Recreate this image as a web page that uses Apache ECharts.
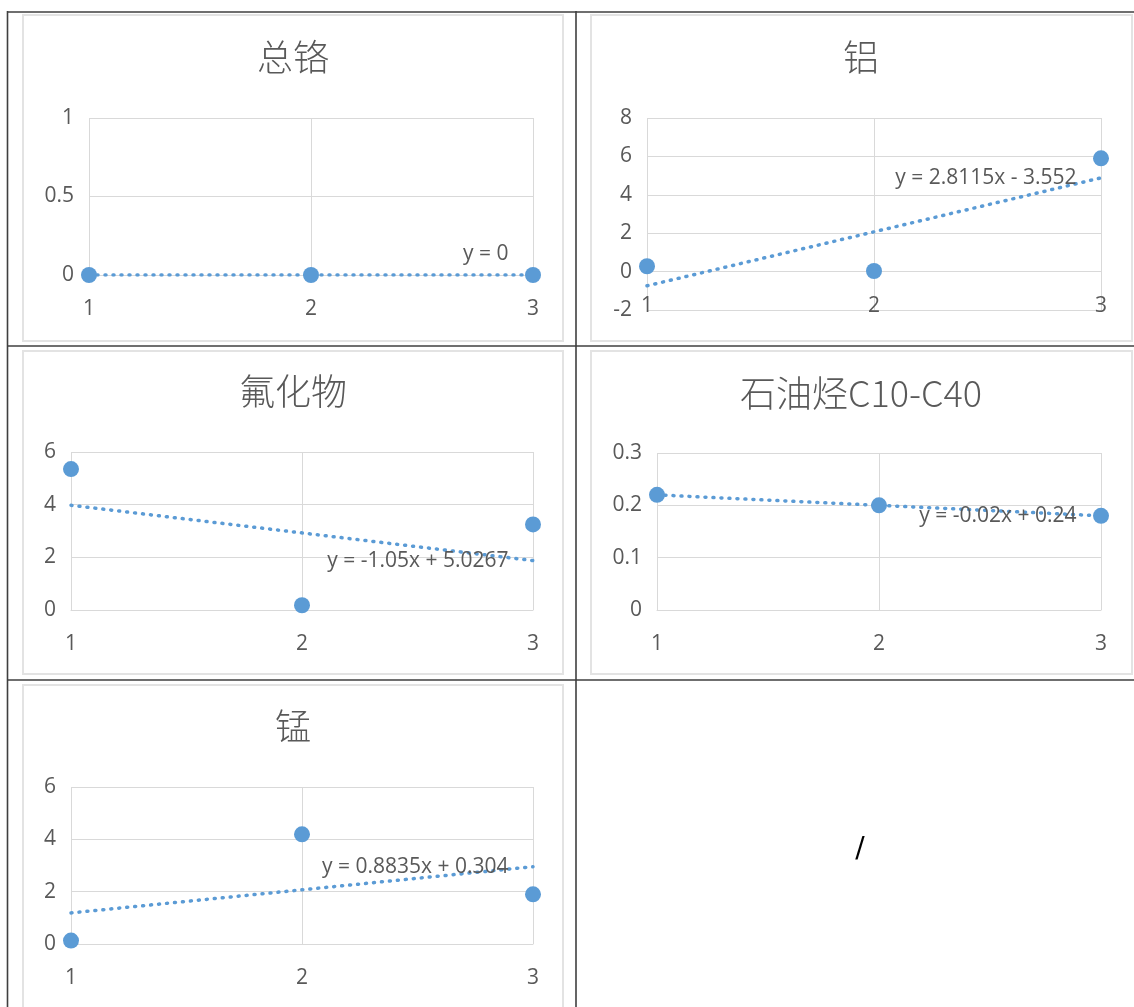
<!DOCTYPE html>
<html>
<head>
<meta charset="utf-8">
<script src="https://cdn.jsdelivr.net/npm/echarts@6/dist/echarts.min.js"></script>
<style>
  html, body { margin: 0; padding: 0; background: #fff; }
  #main { width: 1134px; height: 1007px; }
</style>
</head>
<body>
<div id="main"></div>
<script>
// Sample points (x = 1, 2, 3) for each measured item
const xPoints = [1, 2, 3];
const xTickLabels = ['1', '2', '3'];
const chartTitles = ['总铬', '铝', '氟化物', '石油烃C10-C40', '锰'];
const chromiumTotal = [0, 0, 0];
const aluminium = [0.28, 0.03, 5.90];
const fluoride = [5.35, 0.18, 3.25];
const petroleumHC = [0.22, 0.20, 0.18];
const manganese = [0.13, 4.19, 1.90];

// Linear trend lines: y = slope * x + intercept
const trendSlope = [0, 2.8115, -1.05, -0.02, 0.8835];
const trendIntercept = [0, -3.552, 5.0267, 0.24, 0.304];
const trendLabels = ['y = 0', 'y = 2.8115x - 3.552', 'y = -1.05x + 5.0267', 'y = -0.02x + 0.24', 'y = 0.8835x + 0.304'];

// Value axis ranges
const yMin = [0, -2, 0, 0, 0];
const yMax = [1, 8, 6, 0.3, 6];
const yStep = [0.5, 2, 2, 0.1, 2];

const seriesValues = [chromiumTotal, aluminium, fluoride, petroleumHC, manganese];

// ---- layout ----
const BLUE = '#5b9bd5';
const GRID_GRAY = '#d9d9d9';
const TEXT_GRAY = '#595959';
const LABEL_FONT = '"Open Sans", "Noto Sans", sans-serif';

const gridBoxes = [
  { left: 89,  top: 118, width: 444, height: 157 },
  { left: 647, top: 118, width: 454, height: 192 },
  { left: 71,  top: 452, width: 462, height: 158 },
  { left: 657, top: 453, width: 444, height: 157 },
  { left: 71,  top: 787, width: 462, height: 157 }
];
const titleCenters = [[293, 57], [861, 57], [293, 391], [861, 393], [293, 726]];
const frames = [
  [23, 15, 540, 326], [591, 15, 541, 326],
  [23, 351, 540, 323], [591, 351, 541, 323],
  [23, 685, 540, 340]
];
const labelOffsets = [[0, -21], [0, 0], [0, 0], [0, 0], [0, 0]];

const chart = echarts.init(document.getElementById('main'), null, { renderer: 'canvas' });

const grid = [], xAxis = [], yAxis = [], series = [], graphic = [];

// table ruling
const TABLE = '#3f3f3f';
[[7, 12, 1134, 12], [7, 346, 1134, 346], [7, 680, 1134, 680],
 [7.5, 11, 7.5, 1007], [576, 11, 576, 1007]].forEach(function (l) {
  graphic.push({ type: 'line', shape: { x1: l[0], y1: l[1], x2: l[2], y2: l[3] },
    style: { stroke: TABLE, lineWidth: 1.6 }, z: 1 });
});

// chart frames
frames.forEach(function (f) {
  graphic.push({ type: 'rect', shape: { x: f[0], y: f[1], width: f[2], height: f[3] },
    style: { fill: '#fff', stroke: '#e3e3e3', lineWidth: 2 }, z: 0 });
});

// empty cell mark
graphic.push({ type: 'text', x: 860, y: 850, z: 2,
  style: { text: '/', fill: '#000', font: '28px "DejaVu Sans", sans-serif',
    textAlign: 'center', textVerticalAlign: 'middle' } });

chartTitles.forEach(function (t, i) {
  graphic.push({ type: 'text', x: titleCenters[i][0], y: titleCenters[i][1], z: 2,
    style: { text: t, fill: TEXT_GRAY, font: '300 36px "Noto Sans CJK SC", "Open Sans", sans-serif',
      textAlign: 'center', textVerticalAlign: 'middle' } });

  grid.push(Object.assign({ outerBoundsMode: 'none', containLabel: false }, gridBoxes[i]));

  xAxis.push({
    type: 'value', gridIndex: i, min: 1, max: 3, interval: 1, offset: 0,
    axisLine: { show: true, onZero: false, lineStyle: { color: GRID_GRAY, width: 1 } },
    axisTick: { show: false },
    splitLine: { show: true, lineStyle: { color: GRID_GRAY, width: 1 } },
    axisLabel: { color: TEXT_GRAY, fontSize: 21, fontFamily: LABEL_FONT, margin: 24,
      formatter: function (v) { return xTickLabels[xPoints.indexOf(v)] || ''; } }
  });

  yAxis.push({
    type: 'value', gridIndex: i, min: yMin[i], max: yMax[i], interval: yStep[i],
    axisLine: { show: false, onZero: false }, axisTick: { show: false },
    splitLine: { show: true, lineStyle: { color: GRID_GRAY, width: 1 } },
    axisLabel: { color: TEXT_GRAY, fontSize: 21, fontFamily: LABEL_FONT, margin: 15, padding: [3, 0, 0, 0],
      formatter: function (v) { return String(+v.toFixed(2)); } }
  });

  const s = trendSlope[i], b = trendIntercept[i];
  const x0 = xPoints[0], x1 = xPoints[xPoints.length - 1];
  series.push({
    type: 'line', xAxisIndex: i, yAxisIndex: i, z: 3,
    silent: true, animation: false,
    lineStyle: { color: BLUE, width: 3.5, type: [1, 7], cap: 'round' },
    symbol: 'circle', symbolSize: 1, showSymbol: true,
    itemStyle: { color: 'rgba(0,0,0,0)' },
    data: [
      { value: [x0, s * x0 + b] },
      { value: [x1, s * x1 + b],
        label: { show: true, position: 'left', distance: 24, offset: labelOffsets[i],
          formatter: trendLabels[i], color: TEXT_GRAY, fontSize: 21, fontFamily: LABEL_FONT } }
    ]
  });

  series.push({
    type: 'scatter', xAxisIndex: i, yAxisIndex: i, z: 4, animation: false,
    symbol: 'circle', symbolSize: 16,
    itemStyle: { color: BLUE, opacity: 1 },
    data: xPoints.map(function (x, j) { return [x, seriesValues[i][j]]; })
  });
});

chart.setOption({
  animation: false,
  backgroundColor: '#fff',
  grid: grid, xAxis: xAxis, yAxis: yAxis, series: series,
  graphic: { elements: graphic }
});

// Move each horizontal axis (line + labels) up to the y = 0 level of its grid
const axisShift = chartTitles.map(function (t, i) {
  const zeroPx = chart.convertToPixel({ gridIndex: i }, [xPoints[0], 0])[1];
  const basePx = chart.convertToPixel({ gridIndex: i }, [xPoints[0], yMin[i]])[1];
  return { offset: zeroPx - basePx };
});
chart.setOption({ xAxis: axisShift });
</script>
</body>
</html>
